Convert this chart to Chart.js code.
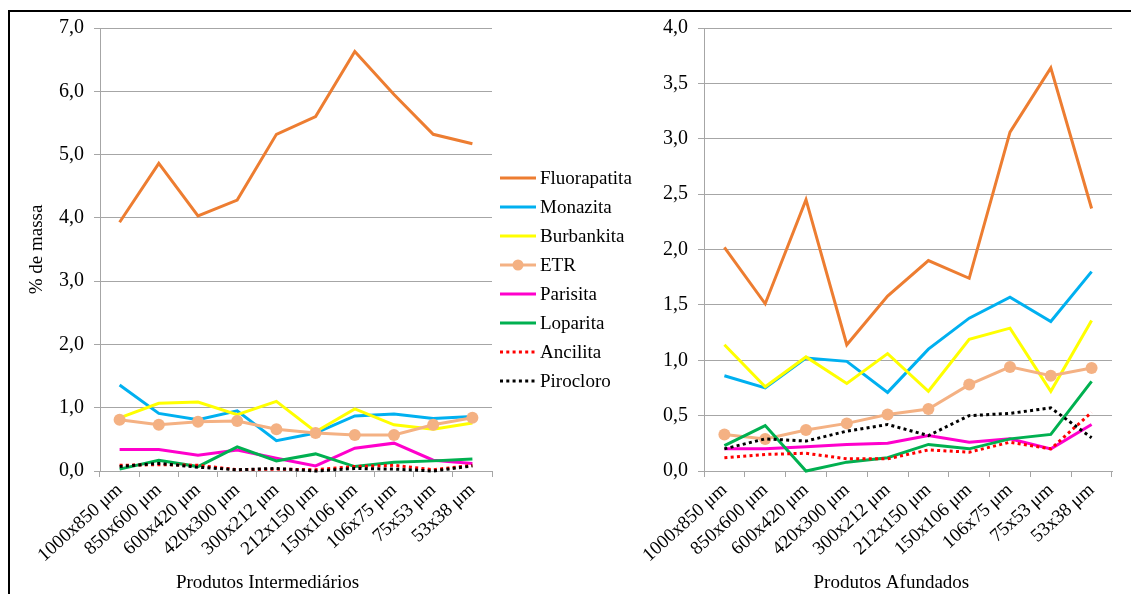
<!DOCTYPE html>
<html lang="pt">
  <head>
    <meta charset="utf-8">
    <title>Distribuição dos minerais por fração granulométrica</title>
    <style>
      body { margin: 0; background: #fff; width: 1131px; height: 594px; overflow: hidden; position: relative; }
      #frame { position: absolute; left: 8px; top: 10px; width: 1200px; height: 700px; border-top: 2px solid #000; border-left: 2px solid #000; }
      #intermediarios { position: absolute; left: 10px; top: 12px; }
      #afundados { position: absolute; left: 630px; top: 12px; }
    </style>
  </head>
  <body>
    <div id="frame"></div>
    <canvas id="afundados" width="501" height="582"></canvas>
    <canvas id="intermediarios" width="640" height="582"></canvas>
    <script src="https://cdn.jsdelivr.net/npm/chart.js@4.4.1/dist/chart.umd.min.js"></script>
    <script>
      const categories = ['1000x850 μm', '850x600 μm', '600x420 μm', '420x300 μm', '300x212 μm',
                          '212x150 μm', '150x106 μm', '106x75 μm', '75x53 μm', '53x38 μm'];

      // Produtos Intermediários (% de massa)
      const fluorapatitaInt = [3.93, 4.86, 4.03, 4.28, 5.32, 5.60, 6.63, 5.95, 5.32, 5.17];
      const monazitaInt     = [1.36, 0.91, 0.81, 0.95, 0.48, 0.60, 0.87, 0.90, 0.83, 0.86];
      const burbankitaInt   = [0.84, 1.07, 1.09, 0.89, 1.10, 0.62, 0.98, 0.73, 0.66, 0.76];
      const etrInt          = [0.81, 0.73, 0.78, 0.79, 0.66, 0.60, 0.57, 0.57, 0.73, 0.84];
      const parisitaInt     = [0.34, 0.34, 0.25, 0.33, 0.20, 0.08, 0.36, 0.44, 0.17, 0.12];
      const loparitaInt     = [0.03, 0.17, 0.07, 0.38, 0.16, 0.27, 0.07, 0.14, 0.16, 0.19];
      const ancilitaInt     = [0.09, 0.10, 0.09, 0.02, 0.03, 0.02, 0.07, 0.09, 0.02, 0.09];
      const pirocloroInt    = [0.07, 0.12, 0.06, 0.02, 0.04, 0.00, 0.04, 0.03, 0.00, 0.08];

      // Produtos Afundados (% de massa)
      const fluorapatitaAf = [2.02, 1.51, 2.45, 1.14, 1.58, 1.90, 1.74, 3.06, 3.64, 2.37];
      const monazitaAf     = [0.86, 0.75, 1.02, 0.99, 0.71, 1.10, 1.38, 1.57, 1.35, 1.80];
      const burbankitaAf   = [1.14, 0.76, 1.03, 0.79, 1.06, 0.72, 1.19, 1.29, 0.72, 1.36];
      const etrAf          = [0.33, 0.29, 0.37, 0.43, 0.51, 0.56, 0.78, 0.94, 0.86, 0.93];
      const parisitaAf     = [0.20, 0.20, 0.22, 0.24, 0.25, 0.32, 0.26, 0.29, 0.20, 0.42];
      const loparitaAf     = [0.23, 0.41, 0.00, 0.08, 0.12, 0.24, 0.20, 0.29, 0.33, 0.81];
      const ancilitaAf     = [0.12, 0.15, 0.16, 0.11, 0.11, 0.19, 0.17, 0.26, 0.20, 0.53];
      const pirocloroAf    = [0.20, 0.29, 0.27, 0.36, 0.42, 0.32, 0.50, 0.52, 0.57, 0.30];

      const serif = 'Liberation Serif';
      const gridGray = '#a6a6a6';

      const series = [
        { label: 'Fluorapatita', color: '#ED7D31' },
        { label: 'Monazita',     color: '#00B0F0' },
        { label: 'Burbankita',   color: '#FFFF00' },
        { label: 'ETR',          color: '#F4B183', marker: true },
        { label: 'Parisita',     color: '#FF00CC' },
        { label: 'Loparita',     color: '#00B050' },
        { label: 'Ancilita',     color: '#FF0000', dotted: true },
        { label: 'Pirocloro',    color: '#000000', dotted: true },
      ];

      function buildDatasets(values) {
        return series.map((s, i) => ({
          label: s.label,
          data: values[i],
          borderColor: s.color,
          backgroundColor: s.color,
          borderWidth: 3,
          borderDash: s.dotted ? [3, 3.3] : [],
          pointRadius: s.marker ? 6 : 0,
          pointHoverRadius: s.marker ? 6 : 0,
          pointBorderWidth: 0,
          tension: 0,
          clip: 6,
          order: series.length - i  // later series drawn on top
        }));
      }

      const fmt = v => v.toFixed(1).replace('.', ',');

      function scalesFor(max, step, yTitle, xTitle, yWidth) {
        return {
          x: {
            offset: true,
            grid: { offset: true, drawOnChartArea: false, tickLength: 6, color: gridGray },
            border: { color: gridGray },
            ticks: { autoSkip: false, minRotation: 42, maxRotation: 42, color: '#000', font: { family: serif, size: 19 }, padding: 2 },
            title: { display: true, text: xTitle, color: '#000', font: { family: serif, size: 19 }, padding: { top: 0, bottom: 0 } },
            afterFit: s => { s.height = 123; s.paddingLeft = 0; s.paddingRight = 0; }
          },
          y: {
            min: 0,
            max: max,
            ticks: { stepSize: step, callback: fmt, color: '#000', font: { family: serif, size: 20 }, padding: 10 },
            grid: { color: gridGray, tickLength: 6 },
            border: { color: gridGray },
            title: { display: !!yTitle, text: yTitle, color: '#000', font: { family: serif, size: 19 }, padding: { top: 16, bottom: 0 } },
            // fixed axis width; the plot top is set by layout padding alone
            afterFit: s => { s.width = yWidth; s.paddingTop = 0; s.paddingBottom = 0; }
          }
        };
      }

      // legend drawn beside the left plot, one row per series
      const sideLegend = {
        id: 'sideLegend',
        afterDraw(chart, args, opts) {
          if (!opts.show) return;
          const ctx = chart.ctx;
          ctx.save();
          chart.data.datasets.forEach((ds, i) => {
            const y = opts.top + i * opts.step;
            const x = opts.left;
            ctx.beginPath();
            ctx.strokeStyle = ds.borderColor;
            ctx.lineWidth = 3;
            ctx.setLineDash(ds.borderDash);
            ctx.moveTo(x, y);
            ctx.lineTo(x + 36, y);
            ctx.stroke();
            ctx.setLineDash([]);
            if (ds.pointRadius > 0) {
              ctx.beginPath();
              ctx.fillStyle = ds.backgroundColor;
              ctx.arc(x + 18, y, 5.5, 0, Math.PI * 2);
              ctx.fill();
            }
            ctx.fillStyle = '#000';
            ctx.font = '19px "' + serif + '"';
            ctx.textBaseline = 'middle';
            ctx.fillText(ds.label, x + 40, y + 1);
          });
          ctx.restore();
        }
      };

      function makeChart(id, values, max, step, yTitle, xTitle, yWidth, padRight, legend) {
        return new Chart(document.getElementById(id), {
          type: 'line',
          data: { labels: categories, datasets: buildDatasets(values) },
          options: {
            responsive: false,
            animation: false,
            events: [],
            layout: { padding: { top: 16, left: 0, right: padRight, bottom: 0 } },
            scales: scalesFor(max, step, yTitle, xTitle, yWidth),
            plugins: {
              legend: { display: false },
              tooltip: { enabled: false },
              sideLegend: legend
            }
          },
          plugins: [sideLegend]
        });
      }

      const nb = '\u00A0';
      makeChart('intermediarios',
        [fluorapatitaInt, monazitaInt, burbankitaInt, etrInt, parisitaInt, loparitaInt, ancilitaInt, pirocloroInt],
        7, 1, '% de massa', 'Produtos Intermediários' + nb.repeat(12), 90, 158,
        { show: true, left: 490, top: 166, step: 29 });

      makeChart('afundados',
        [fluorapatitaAf, monazitaAf, burbankitaAf, etrAf, parisitaAf, loparitaAf, ancilitaAf, pirocloroAf],
        4, 0.5, '', 'Produtos Afundados' + nb.repeat(7), 74, 19,
        { show: false });
    </script>
  </body>
</html>
